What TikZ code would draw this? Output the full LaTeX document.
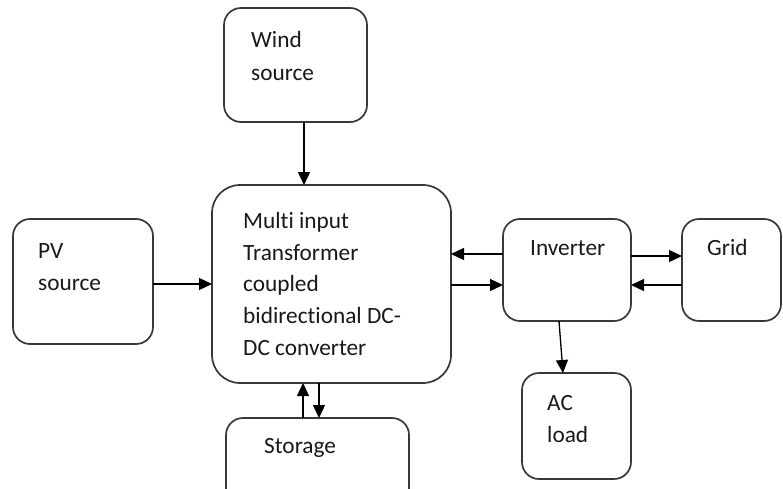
\documentclass[tikz,border=0pt]{standalone}
\usepackage{fontspec}
\setmainfont{Carlito}[Ligatures=CommonOff]
\usetikzlibrary{arrows.meta}
\begin{document}
\begin{tikzpicture}[x=1pt,y=-1pt,
  box/.style={draw=black!78,line width=1.7pt,rounded corners=17pt,inner sep=0pt,outer sep=0pt},
  bigbox/.style={box,rounded corners=28pt},
  lbl/.style={anchor=base west,inner sep=0pt,text=black!90,font=\fontsize{23.3}{31.5}\selectfont},
  arr/.style={draw=black,line width=1.3pt,-{Triangle[length=13pt,width=12pt]}}]
\useasboundingbox (0,0) rectangle (783,489);
\clip (0,0) rectangle (783,489);
\fill[white] (0,0) rectangle (783,489);
% boxes
\node[box,minimum width=143pt,minimum height=114pt] (wind) at (295.5,65) {};
\node[box,minimum width=140pt,minimum height=125pt] (pv) at (83,281.5) {};
\node[bigbox,minimum width=239pt,minimum height=198pt] (main) at (331.5,284) {};
\node[box,minimum width=128pt,minimum height=102pt] (inv) at (567,270) {};
\node[box,minimum width=99pt,minimum height=102pt] (grid) at (731.5,270) {};
\node[box,minimum width=183pt,minimum height=104pt] (stor) at (317.5,470) {};
\node[box,minimum width=109pt,minimum height=106pt] (acl) at (576.5,426) {};
% labels
\node[lbl] (t1) at (251,48) {Wind};
\node[lbl] (t2) at (251,81) {source};
\node[lbl] (t3) at (38,258) {PV};
\node[lbl] (t4) at (38,290) {source};
\node[lbl] (m1) at (243,228) {Multi input};
\node[lbl] (m2) at (243,260) {Transformer};
\node[lbl] (m3) at (243,291.5) {coupled};
\node[lbl] (m4) at (243,323) {bidirectional DC-};
\node[lbl] (m5) at (243,355) {DC converter};
\node[lbl] (t5) at (530,255) {Inverter};
\node[lbl] (t6) at (707,255) {Grid};
\node[lbl] (t7) at (264,453) {Storage};
\node[lbl] (t8) at (547,410) {AC};
\node[lbl] (t9) at (547,442) {load};
% connectors
\draw[arr] ([xshift=8.5pt]wind.south) -- ([xshift=8.5pt]wind.south |- main.north);
\draw[arr] (pv.east |- main.west) -- (main.west);
\draw[arr] ([yshift=16pt]inv.west) -- ([yshift=16pt]inv.west -| main.east);
\draw[arr] ([yshift=-15pt]inv.west -| main.east) -- ([yshift=-15pt]inv.west);
\draw[arr] ([yshift=14pt]inv.east) -- ([yshift=14pt]inv.east -| grid.west);
\draw[arr] ([yshift=-15pt]grid.west) -- ([yshift=-15pt]grid.west -| inv.east);
\draw[arr] ([xshift=-14.5pt]stor.north) -- ([xshift=-14.5pt]stor.north |- main.south);
\draw[arr] ([xshift=1.5pt]stor.north |- main.south) -- ([xshift=1.5pt]stor.north);
\draw[arr] ([xshift=-8pt]inv.south) -- ([xshift=-13.5pt]acl.north);
\end{tikzpicture}
\end{document}
